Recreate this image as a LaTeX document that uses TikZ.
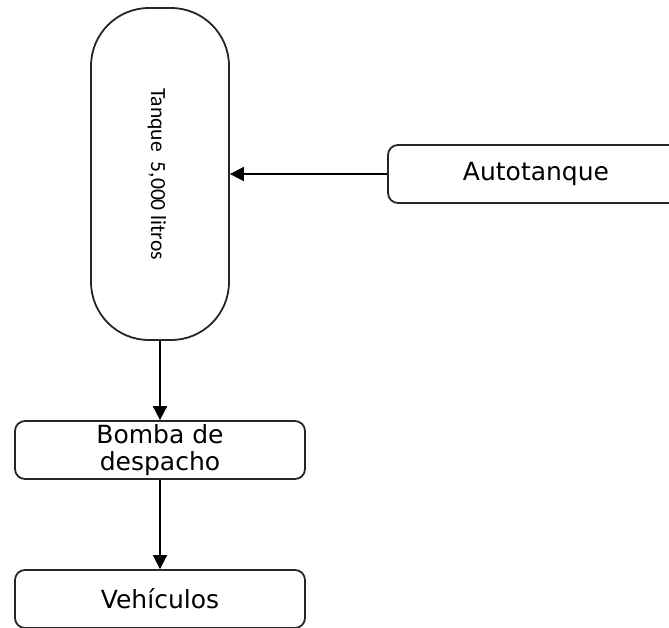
\documentclass[tikz,border=0pt]{standalone}
\usepackage{fontspec}
\setmainfont{DejaVu Sans}
\newfontfamily\tankfont{Carlito}
\usetikzlibrary{arrows.meta}
\tikzset{
  procbox/.style={draw=black!85, line width=0.9pt, rounded corners=5pt, inner sep=0pt,
    minimum width=145pt, minimum height=29pt, align=center, font=\fontsize{12.5}{13.5}\selectfont},
  flow/.style={line width=0.9pt, -{Triangle[length=7pt,width=7pt]}}
}
\begin{document}
\begin{tikzpicture}[x=0.5pt, y=-0.5pt]
    \useasboundingbox (0,0) rectangle (669,627);
    % storage tank
    \node[draw=black!85, line width=0.9pt, rounded corners=29pt, minimum width=69pt, minimum height=166pt, inner sep=0pt] (tanque) at (160,174) {};
    \node[rotate=-90, font=\tankfont\fontsize{10.8}{13}\selectfont] (tanquetxt) at (157,174) {Tanque\ \ 5,000 litros};
    % boxes
    \node[procbox, minimum width=148pt] (auto) at (536,174) {Autotanque};
    \node[procbox] (bomba) at (160,450) {Bomba de\\despacho};
    \node[procbox] (vehic) at (160,599) {Vehículos};
    % flows
    \draw[flow] (auto.west) -- (tanque.east);
    \draw[flow] (tanque.south) -- (bomba.north);
    \draw[flow] (bomba.south) -- (vehic.north);
\end{tikzpicture}
\end{document}
